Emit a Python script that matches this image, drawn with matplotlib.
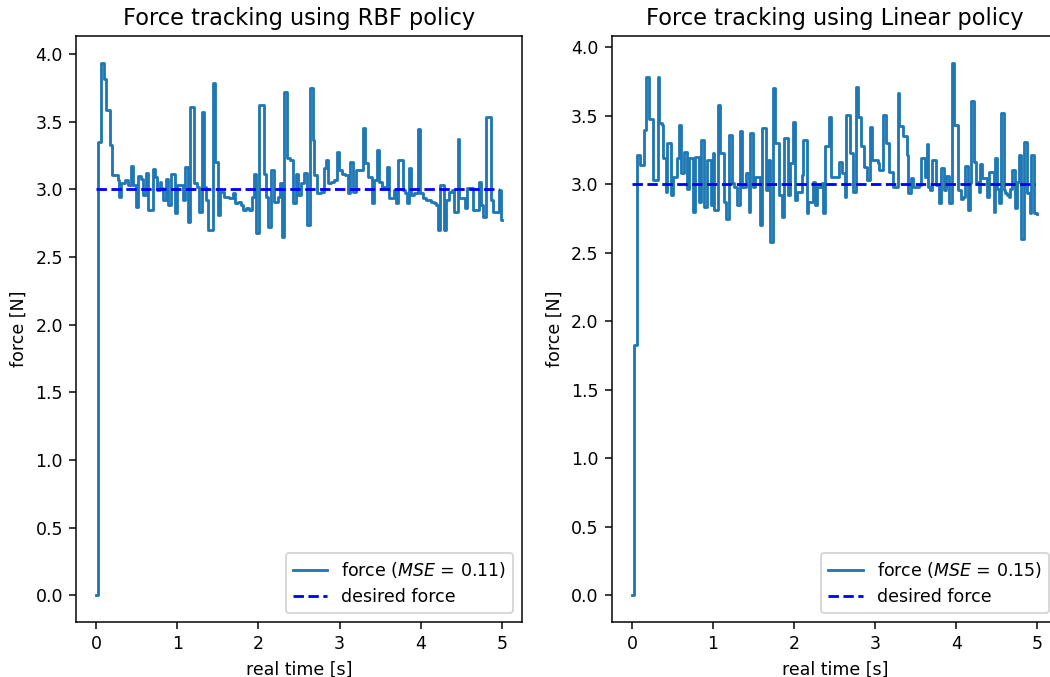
import matplotlib
matplotlib.use("Agg")
import matplotlib.pyplot as plt

# force readings (step changes), RBF policy
t_rbf = [0, 0.021, 0.062, 0.094, 0.123, 0.164, 0.193, 0.267, 0.275, 0.308,
         0.349, 0.39, 0.423, 0.451, 0.484, 0.513, 0.554, 0.575, 0.616, 0.636,
         0.698, 0.726, 0.751, 0.78, 0.80, 0.82, 0.862, 0.89, 0.924, 0.965,
         0.993, 1.067, 1.096, 1.129, 1.161, 1.21, 1.244, 1.272, 1.301, 1.326,
         1.355, 1.383, 1.437, 1.465, 1.498, 1.531, 1.58, 1.642, 1.683, 1.712,
         1.744, 1.786, 1.814, 1.847, 1.888, 1.917, 1.941, 1.97, 2.011, 2.065,
         2.093, 2.122, 2.155, 2.188, 2.237, 2.266, 2.29, 2.32, 2.348, 2.393,
         2.426, 2.463, 2.492, 2.524, 2.566, 2.598, 2.639, 2.668, 2.689, 2.722,
         2.771, 2.804, 2.833, 2.853, 2.894, 2.935, 2.968, 2.997, 3.026, 3.067,
         3.1, 3.132, 3.161, 3.202, 3.284, 3.313, 3.346, 3.394, 3.428, 3.46,
         3.489, 3.518, 3.583, 3.612, 3.674, 3.694, 3.723, 3.776, 3.805, 3.83,
         3.859, 3.879, 3.92, 3.961, 3.99, 4.023, 4.064, 4.126, 4.158, 4.187,
         4.208, 4.241, 4.282, 4.31, 4.351, 4.38, 4.405, 4.454, 4.474, 4.548,
         4.577, 4.639, 4.713, 4.741, 4.774, 4.803, 4.865, 4.897, 4.967, 4.988,
         5.0]
f_rbf = [0, 3.352, 3.936, 3.812, 3.586, 3.327, 3.107, 3.07, 2.945, 3.045,
         3.07, 3.033, 3.172, 3.033, 2.871, 3.098, 3.08, 2.958, 3.123, 2.846,
         3.147, 3.094, 2.995, 3.057, 3.008, 2.92, 3.08, 2.883, 3.11, 2.827,
         3.033, 2.92, 3.167, 2.76, 3.61, 3.045, 3.02, 2.834, 3.573, 3.02,
         2.92, 2.698, 3.783, 3.204, 2.81, 2.982, 2.945, 2.933, 2.97, 2.896,
         2.908, 2.883, 2.846, 2.859, 2.846, 2.945, 3.117, 2.674, 3.623, 3.11,
         2.945, 2.723, 3.141, 2.908, 2.945, 3.045, 2.649, 3.722, 3.229, 3.216,
         2.896, 3.117, 2.958, 3.045, 3.123, 2.735, 3.746, 3.364, 3.107, 2.97,
         2.982, 3.155, 3.216, 3.045, 3.057, 3.07, 3.278, 3.141, 3.117, 3.107,
         2.97, 3.204, 2.982, 3.141, 3.45, 3.192, 3.094, 2.896, 3.07, 3.29,
         3.057, 3.02, 3.167, 2.933, 2.995, 2.896, 3.216, 2.995, 2.97, 2.896,
         3.155, 2.958, 2.97, 3.443, 2.97, 2.933, 2.92, 2.908, 2.896, 2.883,
         2.698, 3.033, 2.698, 2.92, 2.982, 2.995, 2.834, 3.369, 2.933, 2.859,
         3.008, 2.846, 3.057, 2.883, 2.797, 3.532, 2.92, 2.834, 2.995, 2.773,
         2.773]

# Linear policy
t_lin = [0, 0.02, 0.061, 0.102, 0.143, 0.172, 0.212, 0.253, 0.265, 0.315,
         0.339, 0.368, 0.38, 0.417, 0.437, 0.486, 0.51, 0.559, 0.58, 0.608,
         0.641, 0.674, 0.703, 0.756, 0.772, 0.825, 0.846, 0.886, 0.919, 0.968,
         0.993, 1.017, 1.062, 1.09, 1.131, 1.164, 1.193, 1.233, 1.262, 1.295,
         1.336, 1.356, 1.409, 1.438, 1.458, 1.491, 1.52, 1.573, 1.601, 1.65,
         1.671, 1.703, 1.744, 1.769, 1.818, 1.846, 1.875, 1.92, 1.949, 1.981,
         2.01, 2.038, 2.091, 2.112, 2.153, 2.173, 2.226, 2.255, 2.275, 2.337,
         2.357, 2.377, 2.431, 2.451, 2.553, 2.594, 2.623, 2.643, 2.692, 2.725,
         2.766, 2.786, 2.827, 2.859, 2.896, 2.937, 2.962, 3.031, 3.051, 3.1,
         3.133, 3.174, 3.223, 3.276, 3.297, 3.346, 3.387, 3.403, 3.444, 3.46,
         3.534, 3.562, 3.611, 3.636, 3.656, 3.677, 3.705, 3.746, 3.787, 3.807,
         3.848, 3.869, 3.909, 3.95, 3.975, 4.023, 4.052, 4.081, 4.105, 4.146,
         4.163, 4.183, 4.22, 4.244, 4.277, 4.297, 4.318, 4.379, 4.4, 4.461,
         4.481, 4.501, 4.522, 4.554, 4.583, 4.603, 4.624, 4.645, 4.665, 4.685,
         4.726, 4.747, 4.767, 4.8, 4.829, 4.869, 4.907, 4.922, 4.963, 5.0]
f_lin = [0, 1.83, 3.212, 3.139, 3.394, 3.779, 3.472, 3.285, 3.029, 3.779,
         3.443, 3.431, 3.187, 2.944, 3.297, 2.92, 3.054, 3.187, 3.431, 3.078,
         3.236, 2.968, 3.187, 2.798, 3.2, 2.871, 3.321, 2.835, 3.175, 2.847,
         3.224, 2.81, 3.577, 3.224, 2.871, 2.749, 3.358, 3.005, 2.981, 2.847,
         3.389, 2.981, 3.083, 2.798, 3.37, 2.981, 3.054, 2.701, 3.406, 2.956,
         3.175, 2.579, 3.698, 3.297, 2.92, 2.762, 3.333, 2.92, 3.151, 3.455,
         2.883, 2.944, 3.066, 3.321, 2.786, 2.871, 3.017, 2.847, 2.981, 3.005,
         2.786, 3.277, 3.491, 3.054, 3.163, 3.078, 2.907, 3.504, 3.224, 2.944,
         3.71, 3.491, 3.277, 3.127, 3.029, 3.414, 3.175, 3.156, 3.102, 3.504,
         3.297, 3.09, 2.981, 3.666, 3.423, 3.35, 3.212, 2.932, 3.041, 2.981,
         2.993, 3.187, 3.054, 3.292, 2.981, 2.956, 3.175, 2.993, 2.859, 3.114,
         2.956, 3.058, 2.859, 3.886, 3.431, 2.956, 2.895, 2.907, 3.131, 2.81,
         3.005, 3.608, 3.163, 3.017, 2.944, 3.146, 3.041, 2.907, 3.09, 2.798,
         3.192, 2.968, 2.859, 3.516, 2.956, 2.932, 2.92, 2.907, 2.968, 3.102,
         2.823, 3.017, 3.212, 2.603, 3.309, 2.932, 2.786, 3.212, 2.786, 2.781]

desired = 3.0
t_desired = [0, 4.97]
titles = ["Force tracking using RBF policy", "Force tracking using Linear policy"]
mse = [0.11, 0.15]

plt.rcParams["font.size"] = 9.3

fig = plt.figure(figsize=(1050 / 135, 677 / 135), dpi=135)
ax1 = fig.add_axes([0.0724, 0.0812, 0.4248, 0.8656])
ax2 = fig.add_axes([0.5826, 0.0812, 0.4248, 0.8656])

for ax, t, f, title, m in zip([ax1, ax2], [t_rbf, t_lin], [f_rbf, f_lin], titles, mse):
    ax.plot(t, f, drawstyle="steps-post", color="tab:blue",
            label="force ($MSE$ = %.2f)" % m)
    ax.plot(t_desired, [desired, desired], "b--", label="desired force")
    ax.set_title(title, fontsize=12)
    ax.set_xlabel("real time [s]")
    ax.set_ylabel("force [N]")
    ax.set_yticks([0.0, 0.5, 1.0, 1.5, 2.0, 2.5, 3.0, 3.5, 4.0])
    ax.legend(loc="lower right")

fig.savefig("out.png", dpi=135)
